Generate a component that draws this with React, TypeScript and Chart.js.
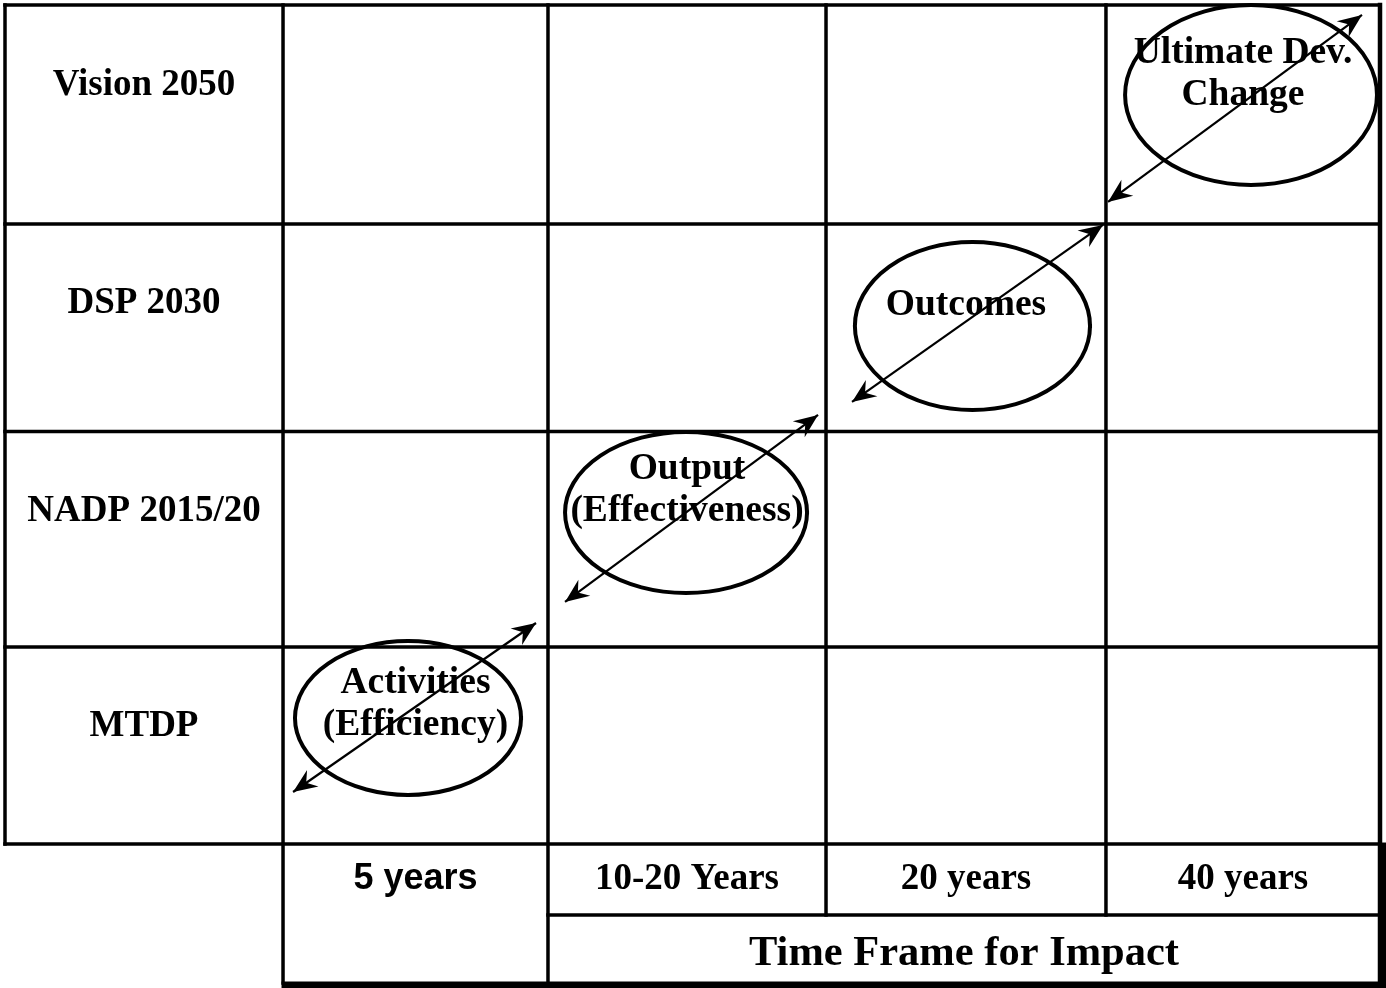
import React, { useEffect, useRef } from "react";
import { Chart, registerables } from "chart.js";

Chart.register(...registerables);

// ---------------- data ----------------
const rowLabels = ["Vision 2050", "DSP 2030", "NADP 2015/20", "MTDP"];
const timeFrameLabels = ["5 years", "10-20 Years", "20 years", "40 years"];
const impactTitle = "Time Frame for Impact";

const stageNames = [
  ["Activities", "(Efficiency)"],
  ["Output", "(Effectiveness)"],
  ["Outcomes"],
  ["Ultimate Dev.", "Change"],
];
const stageColumn = [1, 2, 3, 4];

// ellipse centres / radii in axis units (% of the table)
const stageCenterX = [29.31, 49.53, 70.36, 90.62];
const stageCenterY = [72.9, 51.89, 32.82, 9.2];
const stageRadiusX = [8.22, 8.8, 8.55, 9.16];
const stageRadiusY = [7.87, 8.23, 8.59, 9.2];
const stageLabelY = [71.27, 49.39, 30.42, 6.88];

// double-headed arrows (axis units)
const arrowStartX = [20.95, 40.73, 61.6, 80.22];
const arrowStartY = [80.47, 61.04, 40.59, 20.14];
const arrowEndX = [38.62, 59.13, 79.85, 98.69];
const arrowEndY = [63.19, 41.92, 22.49, 1.02];

// table structure (axis units)
const columnEdges = [0, 20.22, 39.49, 59.71, 80.07, 100];
const rowEdges = [0, 22.39, 43.61, 65.64, 85.79, 93.05, 100];
const rowLabelOffset = 7.92;
const timeFrameLabelY = 89.16;
const impactTitleY = 96.73;

const SERIF = '"Liberation Serif", "Times New Roman", serif';
const SANS = '"Liberation Sans", Arial, sans-serif';
const TEXT_NUDGE = 2.5;

function drawArrowHead(ctx: CanvasRenderingContext2D, tx: number, ty: number, fx: number, fy: number) {
  const ang = Math.atan2(ty - fy, tx - fx);
  const L = 24;
  const W = 10;
  const N = 16;
  const dx = Math.cos(ang);
  const dy = Math.sin(ang);
  const pxv = -dy;
  const pyv = dx;
  ctx.beginPath();
  ctx.moveTo(tx, ty);
  ctx.lineTo(tx - L * dx + W * pxv, ty - L * dy + W * pyv);
  ctx.lineTo(tx - N * dx, ty - N * dy);
  ctx.lineTo(tx - L * dx - W * pxv, ty - L * dy - W * pyv);
  ctx.closePath();
  ctx.fill();
}

const tablePlugin = {
  id: "tableDiagram",
  beforeDatasetsDraw(chart: any) {
    const { ctx } = chart;
    const xs = chart.scales.x;
    const ys = chart.scales.y;
    const px = (v: number) => xs.getPixelForValue(v);
    const py = (v: number) => ys.getPixelForValue(v);
    ctx.save();
    ctx.strokeStyle = "#000";
    ctx.fillStyle = "#000";
    ctx.lineCap = "square";

    const seg = (x1: number, y1: number, x2: number, y2: number, w = 3.5) => {
      ctx.lineWidth = w;
      ctx.beginPath();
      ctx.moveTo(px(x1), py(y1));
      ctx.lineTo(px(x2), py(y2));
      ctx.stroke();
    };

    // horizontal rules
    for (let r = 0; r <= 4; r++) seg(0, rowEdges[r], 100, rowEdges[r]);
    seg(columnEdges[2], rowEdges[5], 100, rowEdges[5]);
    // vertical rules
    seg(0, 0, 0, rowEdges[4]);
    seg(columnEdges[1], 0, columnEdges[1], 100);
    seg(columnEdges[2], 0, columnEdges[2], 100);
    seg(columnEdges[3], 0, columnEdges[3], rowEdges[5]);
    seg(columnEdges[4], 0, columnEdges[4], rowEdges[5]);
    seg(100, 0, 100, 100, 4.5);

    // footer box heavy bottom / right edge
    const fl = px(columnEdges[1]) - 1.5;
    const fb = py(100);
    const fr = px(100);
    ctx.fillRect(fl, fb - 1.5, fr + 6 - fl, 7);
    ctx.fillRect(fr - 1.5, py(rowEdges[4]) - 1.5, 7.5, fb + 5 - py(rowEdges[4]) + 1.5);

    // text
    ctx.textAlign = "center";
    ctx.textBaseline = "middle";
    ctx.font = `bold 37px ${SERIF}`;
    const cx0 = (columnEdges[0] + columnEdges[1]) / 2;
    rowLabels.forEach((t, i) => {
      ctx.fillText(t, px(cx0), py(rowEdges[i] + rowLabelOffset) + TEXT_NUDGE);
    });

    timeFrameLabels.forEach((t, i) => {
      ctx.font = i === 0 ? `bold 36px ${SANS}` : `bold 37px ${SERIF}`;
      const c = (columnEdges[i + 1] + columnEdges[i + 2]) / 2;
      ctx.fillText(t, px(c), py(timeFrameLabelY) + TEXT_NUDGE);
    });

    ctx.font = `bold 42.5px ${SERIF}`;
    ctx.fillText(impactTitle, px((columnEdges[2] + 100) / 2), py(impactTitleY) + TEXT_NUDGE);

    // stage labels
    ctx.font = `bold 37.5px ${SERIF}`;
    const lineGap = 42;
    stageNames.forEach((lines, i) => {
      const c = stageColumn[i];
      const cx = px((columnEdges[c] + columnEdges[c + 1]) / 2);
      const cy = py(stageLabelY[i]) + TEXT_NUDGE;
      lines.forEach((ln, k) => {
        ctx.fillText(ln, cx, cy + (k - (lines.length - 1) / 2) * lineGap);
      });
    });

    // ellipses
    ctx.lineWidth = 4;
    stageCenterX.forEach((cxv, i) => {
      const ex = px(cxv);
      const ey = py(stageCenterY[i]);
      const rx = Math.abs(px(cxv + stageRadiusX[i]) - ex);
      const ry = Math.abs(py(stageCenterY[i] + stageRadiusY[i]) - ey);
      ctx.beginPath();
      ctx.ellipse(ex, ey, rx, ry, 0, 0, Math.PI * 2);
      ctx.stroke();
    });
    ctx.restore();
  },
  afterDatasetsDraw(chart: any) {
    const { ctx } = chart;
    ctx.save();
    ctx.fillStyle = "#000";
    chart.data.datasets.forEach((_: any, i: number) => {
      const meta = chart.getDatasetMeta(i);
      const a = meta.data[0];
      const b = meta.data[1];
      if (!a || !b) return;
      drawArrowHead(ctx, b.x, b.y, a.x, a.y);
      drawArrowHead(ctx, a.x, a.y, b.x, b.y);
    });
    ctx.restore();
  },
};

export default function App() {
  const ref = useRef<HTMLCanvasElement | null>(null);

  useEffect(() => {
    if (!ref.current) return;
    const chart = new Chart(ref.current, {
      type: "line",
      data: {
        datasets: arrowStartX.map((_, i) => ({
          label: stageNames[i].join(" "),
          data: [
            { x: arrowStartX[i], y: arrowStartY[i] },
            { x: arrowEndX[i], y: arrowEndY[i] },
          ],
          borderColor: "#000",
          borderWidth: 2.2,
          pointRadius: 0,
          fill: false,
          tension: 0,
          clip: 20,
        })),
      },
      options: {
        responsive: false,
        maintainAspectRatio: false,
        animation: false,
        events: [],
        layout: { padding: { left: 5, top: 5, right: 6, bottom: 5 } },
        scales: {
          x: { type: "linear", min: 0, max: 100, display: false },
          y: { type: "linear", min: 0, max: 100, reverse: true, display: false },
        },
        plugins: {
          legend: { display: false },
          tooltip: { enabled: false },
        },
      },
      plugins: [tablePlugin],
    } as any);
    return () => chart.destroy();
  }, []);

  return (
    <div style={{ position: "absolute", left: 0, top: 0, width: 1386, height: 988, background: "#fff" }}>
      <canvas ref={ref} width={1386} height={988} style={{ display: "block" }} />
    </div>
  );
}
